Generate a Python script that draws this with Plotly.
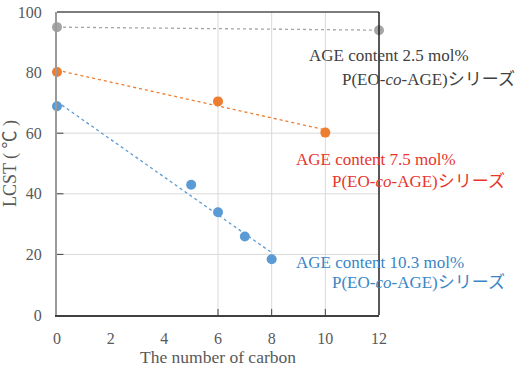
import numpy as np
import plotly.graph_objects as go

# data
gray_x = [0, 12]
gray_y = [95, 94]
orange_x = [0, 6, 10]
orange_y = [80.2, 70.5, 60.2]
blue_x = [0, 5, 6, 7, 8]
blue_y = [68.9, 43, 33.9, 25.9, 18.4]

x_ticks = [0, 2, 4, 6, 8, 10, 12]
y_ticks = [0, 20, 40, 60, 80, 100]
x_grid = [6, 8, 10]
y_grid = [20, 40, 60]

labels = [
    ("AGE content 2.5 mol%", "P(EO-<i>co</i>-AGE)シリーズ", 9.33, 85.5, 10.56, 77.6, "#404040"),
    ("AGE content 7.5 mol%", "P(EO-<i>co</i>-AGE)シリーズ", 8.84, 51.2, 10.19, 43.9, "#e8352b"),
    ("AGE content 10.3 mol%", "P(EO-<i>co</i>-AGE)シリーズ", 8.84, 17.2, 10.19, 10.6, "#3a85c6"),
]

FONT = "Liberation Serif, Noto Sans CJK JP, serif"
fig = go.Figure()

series = [
    (gray_x, gray_y, "#a5a5a5"),
    (orange_x, orange_y, "#ed7d31"),
    (blue_x, blue_y, "#5b9bd5"),
]
for xs, ys, col in series:
    k, b = np.polyfit(xs, ys, 1)
    fx = np.array([min(xs), max(xs)])
    fig.add_trace(go.Scatter(x=fx, y=k * fx + b, mode="lines",
                             line=dict(color=col, width=1.3, dash="dot"),
                             hoverinfo="skip", showlegend=False))
for xs, ys, col in series:
    fig.add_trace(go.Scatter(x=xs, y=ys, mode="markers",
                             marker=dict(color=col, size=10),
                             showlegend=False, cliponaxis=False))

shapes = []
for gx in x_grid:
    shapes.append(dict(type="line", xref="x", yref="paper", x0=gx, x1=gx, y0=0, y1=1,
                       line=dict(color="#d9d9d9", width=1), layer="below"))
    shapes.append(dict(type="line", xref="x", yref="paper", x0=gx, x1=gx, y0=0, y1=0.02,
                       line=dict(color="#404040", width=1), layer="above"))
for gy in y_grid:
    shapes.append(dict(type="line", xref="paper", yref="y", x0=0, x1=1, y0=gy, y1=gy,
                       line=dict(color="#d9d9d9", width=1), layer="below"))
    shapes.append(dict(type="line", xref="paper", yref="y", x0=0, x1=0.02, y0=gy, y1=gy,
                       line=dict(color="#404040", width=1), layer="above"))
# frame: top and right dark
shapes.append(dict(type="line", xref="paper", yref="paper", x0=0, x1=1, y0=1, y1=1,
                   line=dict(color="#505050", width=1.5)))
shapes.append(dict(type="line", xref="paper", yref="paper", x0=1, x1=1, y0=0, y1=1,
                   line=dict(color="#202020", width=1.5)))

annotations = []
for l1, l2, x1, y1, x2, y2, col in labels:
    annotations.append(dict(x=x1, y=y1, xref="x", yref="y", text=l1, showarrow=False,
                            xanchor="left", yanchor="middle",
                            font=dict(family=FONT, size=17, color=col)))
    annotations.append(dict(x=x2, y=y2, xref="x", yref="y", text=l2, showarrow=False,
                            xanchor="left", yanchor="middle",
                            font=dict(family=FONT, size=17, color=col)))

fig.update_layout(
    width=516, height=369,
    margin=dict(l=57, r=137, t=12, b=54),
    paper_bgcolor="white", plot_bgcolor="white",
    shapes=shapes, annotations=annotations,
    font=dict(family=FONT, color="#595959"),
    xaxis=dict(range=[0, 12], tickvals=x_ticks, showgrid=False, zeroline=False,
               automargin=False,
               showline=True, linecolor="#404040", linewidth=1.5,
               ticks="", ticklabelstandoff=8, tickfont=dict(size=16, color="#595959"),
               title=dict(text="The number of carbon", font=dict(size=17.5, color="#595959"),
                          standoff=4)),
    yaxis=dict(range=[0, 100], tickvals=y_ticks, showgrid=False, zeroline=False,
               automargin=False,
               showline=True, linecolor="#9a9a9a", linewidth=2,
               ticks="", ticklabelstandoff=10, tickfont=dict(size=16, color="#595959"),
               title=dict(text="LCST ( ℃ )", font=dict(size=18, color="#595959"),
                          standoff=2)),
)

fig.write_html("out.html")
